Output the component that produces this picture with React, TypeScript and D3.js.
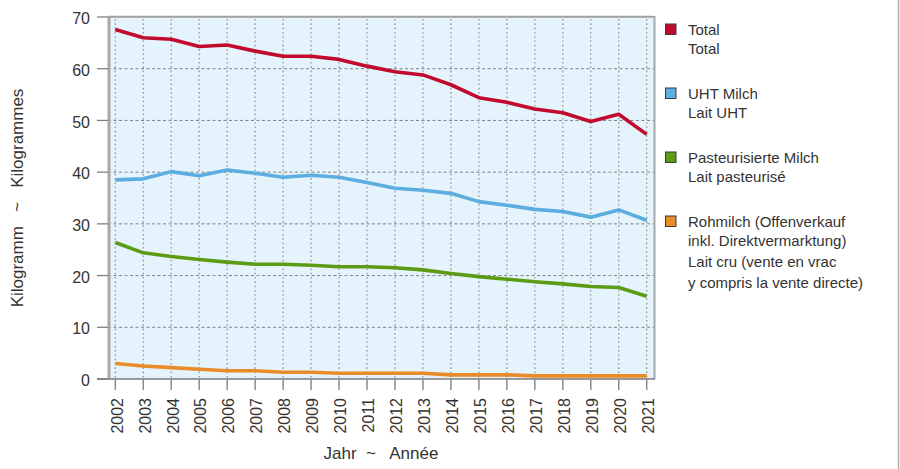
import React from "react";
import * as d3 from "d3";

const years = [2002, 2003, 2004, 2005, 2006, 2007, 2008, 2009, 2010, 2011, 2012, 2013, 2014, 2015, 2016, 2017, 2018, 2019, 2020, 2021];
const total = [67.6, 66.0, 65.7, 64.3, 64.6, 63.4, 62.4, 62.4, 61.8, 60.5, 59.4, 58.8, 56.9, 54.4, 53.5, 52.2, 51.5, 49.8, 51.2, 47.3];
const uht = [38.5, 38.7, 40.1, 39.3, 40.4, 39.8, 39.0, 39.4, 39.0, 38.0, 36.9, 36.5, 35.9, 34.3, 33.6, 32.8, 32.4, 31.3, 32.7, 30.7];
const pasteurised = [26.4, 24.4, 23.7, 23.1, 22.6, 22.2, 22.2, 22.0, 21.7, 21.7, 21.5, 21.1, 20.4, 19.8, 19.3, 18.8, 18.4, 17.9, 17.7, 16.0];
const raw = [3.0, 2.5, 2.2, 1.9, 1.6, 1.6, 1.3, 1.3, 1.1, 1.1, 1.1, 1.1, 0.8, 0.8, 0.8, 0.6, 0.6, 0.6, 0.6, 0.6];
const yTicks = [0, 10, 20, 30, 40, 50, 60, 70];

const seriesNames = ["Total", "UHT Milch", "Pasteurisierte Milch", "Rohmilch"];
const seriesColors = ["#c20a2f", "#5cade0", "#5c9b14", "#e98b29"];
const legendLines = [
  ["Total", "Total"],
  ["UHT Milch", "Lait UHT"],
  ["Pasteurisierte Milch", "Lait pasteurisé"],
  ["Rohmilch (Offenverkauf", "inkl. Direktvermarktung)", "Lait cru (vente en vrac", "y compris la vente directe)"],
];

const FONT = "'Liberation Sans', Arial, sans-serif";

export default function App() {
  const W = 900, H = 469;
  const left = 108, right = 654, top = 17, bottom = 379;
  const x = d3.scaleLinear().domain([2002, 2021]).range([115.3, 646.7]);
  const y = d3.scaleLinear().domain([0, 70]).range([bottom, top]);
  const data = [total, uht, pasteurised, raw];
  const line = d3.line<number>().x((_, i) => x(years[i])).y((v) => y(v));
  const textColor = "#333";

  const legendBaselines = [
    [35, 53.5],
    [99, 117.5],
    [163, 181.5],
    [227, 245.5, 267, 288],
  ];

  return (
    <svg width={W} height={H} style={{ position: "absolute", left: 0, top: 0, background: "#fff" }} fontFamily={FONT}>
      <rect x={left} y={top} width={right - left} height={bottom - top} fill="#e4f3fc" />
      {/* vertical dotted grid */}
      {years.map((yr) => (
        <line key={"vg" + yr} x1={x(yr)} x2={x(yr)} y1={top + 2} y2={bottom} stroke="#9a9a9a" strokeWidth={1.3} strokeDasharray="1.6,2.7" />
      ))}
      {/* horizontal dashed grid */}
      {yTicks.filter((t) => t > 0 && t < 70).map((t) => (
        <line key={"hg" + t} x1={left} x2={right} y1={y(t)} y2={y(t)} stroke="#808080" strokeWidth={1} strokeDasharray="3,2.5" />
      ))}
      {/* borders */}
      <line x1={left} x2={right} y1={top - 0.3} y2={top - 0.3} stroke="#a0a0a0" strokeWidth={2} />
      <line x1={right + 0.5} x2={right + 0.5} y1={top - 1} y2={bottom} stroke="#a8a8a8" strokeWidth={2} />
      <line x1={left + 1} x2={left + 1} y1={top - 1} y2={bottom} stroke="#a8a8a8" strokeWidth={3} />
      {/* y ticks */}
      {yTicks.map((t) => (
        <g key={"yt" + t}>
          <line x1={97} x2={left} y1={y(t)} y2={y(t)} stroke="#808080" strokeWidth={1.3} />
          <text x={90} y={y(t) + 1.5} dy="0.35em" textAnchor="end" fontSize={16} fill={textColor}>{t}</text>
        </g>
      ))}
      {/* x axis line */}
      <line x1={97} x2={right + 1} y1={bottom} y2={bottom} stroke="#7a7a7a" strokeWidth={1.6} />
      {years.map((yr) => (
        <g key={"xt" + yr}>
          <line x1={x(yr)} x2={x(yr)} y1={bottom} y2={bottom + 11} stroke="#8a8a8a" strokeWidth={1.5} />
          <text transform={`translate(${x(yr)},${398}) rotate(-90)`} y={1.5} dy="0.36em" textAnchor="end" fontSize={16} fill={textColor}>{yr}</text>
        </g>
      ))}
      {/* series */}
      {data.map((d, i) => (
        <path key={seriesNames[i]} d={line(d) || ""} fill="none" stroke={seriesColors[i]} strokeWidth={3.6} strokeLinejoin="round" strokeLinecap="butt" />
      ))}
      {/* axis titles */}
      <text x={(left + right) / 2} y={459} textAnchor="middle" fontSize={17} fill={textColor} style={{ whiteSpace: "pre" }}>{"Jahr  ~   Année"}</text>
      <text transform={`translate(22.5,${(top + bottom) / 2}) rotate(-90)`} textAnchor="middle" fontSize={17} fill={textColor} style={{ whiteSpace: "pre" }}>{"Kilogramm   ~   Kilogrammes"}</text>
      {/* legend */}
      {legendLines.map((lines, i) => (
        <g key={"lg" + i}>
          <rect x={665.5} y={legendBaselines[i][0] - 11} width={10.5} height={10.5} fill={seriesColors[i]} stroke="#3a3a3a" strokeWidth={1} />
          {lines.map((s, j) => (
            <text key={j} x={688} y={legendBaselines[i][j]} fontSize={15} fill={textColor}>{s}</text>
          ))}
        </g>
      ))}
      <line x1={898.5} x2={898.5} y1={0} y2={H} stroke="#b0b0b0" strokeWidth={1.5} />
    </svg>
  );
}
